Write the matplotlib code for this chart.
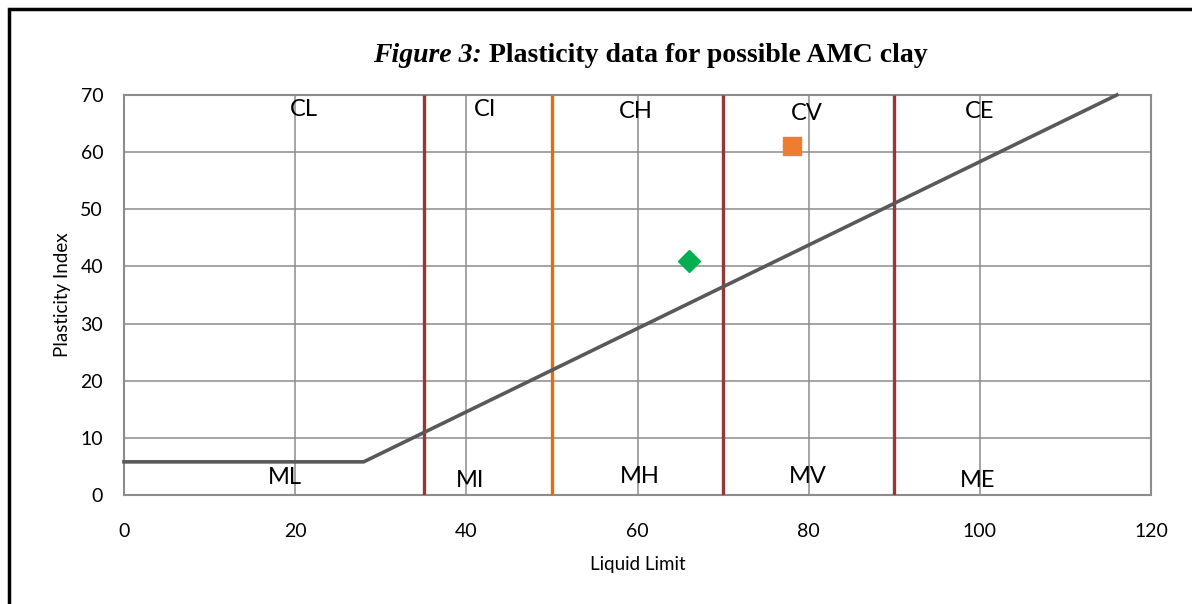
import matplotlib.pyplot as plt
from matplotlib.patches import Rectangle

# A-line (casagrande chart)
aline_x = [0, 28, 116]
aline_y = [5.8, 5.8, 70]

# zone boundaries on liquid limit
bounds = [35, 50, 70, 90]
bound_colors = ["#953735", "#E46C0A", "#953735", "#953735"]

# samples
green_pt = (66, 41)
orange_pt = (78, 61)

upper_labels = ["CL", "CI", "CH", "CV", "CE"]
upper_x = [21, 42.2, 59.8, 79.8, 100]
upper_y = [67.4, 67.4, 67.2, 66.8, 67.2]
lower_labels = ["ML", "MI", "MH", "MV", "ME"]
lower_x = [18.8, 40.4, 60.3, 79.9, 99.7]
lower_y = [3.0, 2.6, 3.3, 3.2, 2.6]

plt.rcParams['font.family'] = ['Lato', 'DejaVu Sans']

fig = plt.figure(figsize=(11.92, 6.04), dpi=100)
ax = fig.add_axes([124 / 1192, 1 - 495 / 604, (1151 - 124) / 1192, (495 - 95) / 604])

ax.set_xlim(0, 120)
ax.set_ylim(0, 70)
ax.set_xticks(range(0, 121, 20))
ax.set_yticks(range(0, 71, 10))
ax.grid(True, color="#8c8c8c", lw=1.1)
ax.set_axisbelow(True)
ax.tick_params(axis='x', length=0, labelsize=14, pad=20)
ax.tick_params(axis='y', length=0, labelsize=14, pad=15)
for s in ax.spines.values():
    s.set_color("#8c8c8c")
    s.set_linewidth(1.5)

for b, c in zip(bounds, bound_colors):
    ax.plot([b, b], [0, 70], color=c, lw=2.4, solid_capstyle='butt', zorder=3)

ax.plot(aline_x, aline_y, color="#595959", lw=2.6, zorder=4, clip_on=False)

ax.plot(*green_pt, marker='D', ms=11, color="#00B050", ls='none', zorder=5)
ax.plot(*orange_pt, marker='s', ms=13, color="#ED7D31", ls='none', zorder=5)

for t, x, y in zip(upper_labels, upper_x, upper_y):
    ax.text(x, y, t, fontsize=17, ha='center', va='center', zorder=6)
for t, x, y in zip(lower_labels, lower_x, lower_y):
    ax.text(x, y, t, fontsize=17, ha='center', va='center', zorder=6)

ax.set_xlabel("Liquid Limit", fontsize=13.5, labelpad=12)
ax.set_ylabel("Plasticity Index", fontsize=13.5, labelpad=7)

# title in two styles, centred as one block
ty = 1 - 55 / 604
t1 = fig.text(0, ty, "Figure 3:", fontsize=20, style='italic', weight='bold',
              family='Liberation Serif', va='center', ha='left')
t2 = fig.text(0, ty, " Plasticity data for possible AMC clay", fontsize=20, weight='bold',
              family='Liberation Serif', va='center', ha='left')
r = fig.canvas.get_renderer()
w1 = t1.get_window_extent(r).width / 1192
w2 = t2.get_window_extent(r).width / 1192
x0 = 650 / 1192 - (w1 + w2) / 2
t1.set_x(x0)
t2.set_x(x0 + w1)

# outer frame, runs past right and bottom edge
fig.patches.append(Rectangle((9 / 1192, -0.05), 1.1, 1 - 9 / 604 + 0.05,
                             transform=fig.transFigure, fill=False,
                             edgecolor='black', lw=2.5))

plt.savefig("out.png", dpi=100)
